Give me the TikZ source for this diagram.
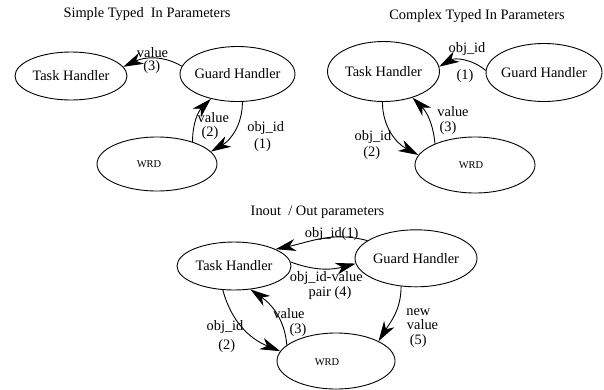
\documentclass[tikz,border=0pt]{standalone}
\usepackage{fontspec}
\setmainfont{Liberation Serif}
\usetikzlibrary{shapes.geometric,arrows.meta}
\begin{document}
\begin{tikzpicture}[x=1pt,y=1pt,
  big/.style={font=\fontsize{14.4}{16}\selectfont},
  small/.style={font=\fontsize{10.5}{12}\selectfont},
  state/.style={ellipse,draw,line width=0.9pt,big,inner xsep=-12pt,inner ysep=0pt},
  txt/.style={inner sep=0pt},
  lbl/.style={big,inner sep=0pt},
  flow/.style={line width=0.9pt,-{Stealth[length=20pt,width=12pt,inset=6pt]}},
]
\useasboundingbox (0,0) rectangle (604,-389);

% ---------- Simple typed in parameters ----------
\node[lbl] (title1) at (147,-14) {Simple Typed\ \ In Parameters};
\node[state,minimum width=112,minimum height=48] (t1) at (71,-76) {Task Handler};
\node[state,minimum width=115,minimum height=55] (g1) at (237.5,-74) {Guard Handler};
\node[state,minimum width=120,minimum height=54] (w1) at (157,-164) {};
\node[small,txt] (w1txt) at (149,-164) {WRD};

\draw[flow] (g1.172) to[out=150,in=25] (t1.10);
\node[lbl] (l1a) at (152.5,-52.5) {value};
\node[lbl] (l1b) at (151.7,-67.5) {(3)};

\draw[flow] (w1.32) to[out=90,in=225] (g1.223);
\node[lbl] (l2a) at (213.3,-117.5) {value};
\node[lbl] (l2b) at (210,-133.5) {(2)};

\draw[flow] (g1.280) to[out=270,in=30] (w1.13);
\node[lbl] (l3a) at (265.7,-128.5) {obj\_id};
\node[lbl] (l3b) at (262.5,-145) {(1)};

% ---------- Complex typed in parameters ----------
\node[lbl] (title2) at (477,-16) {Complex Typed In Parameters};
\node[state,minimum width=112,minimum height=60] (t2) at (383.5,-71.5) {Task Handler};
\node[state,minimum width=116,minimum height=58] (g2) at (544,-72.5) {Guard Handler};
\node[state,minimum width=120,minimum height=56] (w2) at (475,-165) {};
\node[small,txt] (w2txt) at (471,-165) {WRD};

\draw[flow] (g2.178) to[out=140,in=30] (t2.5);
\node[lbl] (l4a) at (467,-49) {obj\_id};
\node[lbl] (l4b) at (465,-76) {(1)};

\draw[flow] (t2.268) to[out=270,in=152] (w2.170);
\node[lbl] (l5a) at (373,-137.5) {obj\_id};
\node[lbl] (l5b) at (371.7,-153.5) {(2)};

\draw[flow] (w2.152) to[out=95,in=315] (t2.318);
\node[lbl] (l6a) at (453,-111.5) {value};
\node[lbl] (l6b) at (448,-128.5) {(3)};

% ---------- Inout / out parameters ----------
\node[lbl] (title3) at (317.5,-212) {Inout\ \ / Out parameters};
\node[state,minimum width=114,minimum height=48] (t3) at (234,-266) {Task Handler};
\node[state,minimum width=122,minimum height=57] (g3) at (416,-258.3) {Guard Handler};
\node[state,minimum width=118,minimum height=56] (w3) at (336,-361) {};
\node[small,txt] (w3txt) at (327,-362) {WRD};

\draw[flow] (g3.160) to[out=165,in=12] (t3.22);
\node[lbl] (l7) at (331.7,-234) {obj\_id(1)};

\draw[flow] (t3.4) to[out=-20,in=195] (g3.185);
\node[lbl] (l8a) at (326.3,-278.5) {obj\_id-value};
\node[lbl] (l8b) at (330,-293.5) {pair (4)};

\draw[flow] (t3.245) to[out=285,in=158] (w3.170);
\node[lbl] (l9a) at (225,-327.5) {obj\_id};
\node[lbl] (l9b) at (226.7,-346.5) {(2)};

\draw[flow] (w3.162) to[out=95,in=325] (t3.305);
\node[lbl] (l10a) at (289,-314) {value};
\node[lbl] (l10b) at (298,-330.5) {(3)};

\draw[flow] (g3.242) to[out=270,in=58] (w3.25);
\node[lbl] (l11a) at (418.3,-312.5) {new};
\node[lbl] (l11b) at (422.5,-324.5) {value};
\node[lbl] (l11c) at (418.3,-341.5) {(5)};
\end{tikzpicture}
\end{document}
